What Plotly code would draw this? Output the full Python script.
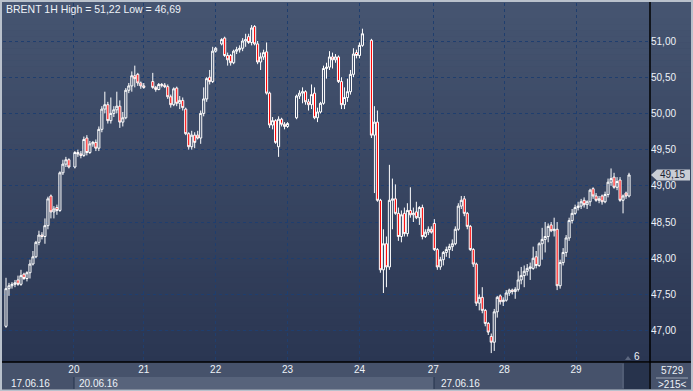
import plotly.graph_objects as go

# ---------------- data (hourly bars, BRENT 1H) ----------------
opens = [47.06,47.58,47.62,47.64,47.70,47.64,47.78,47.72,47.80,47.92,
         48.02,48.22,48.32,48.30,48.45,48.86,48.64,48.70,48.66,49.18,
         49.30,49.36,None,49.26,49.46,49.44,49.42,49.66,49.46,49.58,
         49.60,49.52,49.78,50.06,50.12,49.90,50.00,50.05,50.10,49.88,
         49.94,50.32,50.38,50.52,50.54,50.42,50.38,None,None,50.44,
         50.36,50.33,50.40,50.39,50.37,50.23,50.12,50.35,50.14,50.18,
         50.06,49.72,49.54,49.70,49.70,49.66,50.00,50.20,50.50,50.44,
         50.86,None,50.96,51.04,50.80,50.80,50.70,50.86,50.88,50.90,
         51.00,51.06,50.98,51.20,50.96,50.71,50.78,50.85,50.28,49.84,
         49.90,49.54,49.92,49.85,49.82,None,None,49.94,50.24,50.28,
         50.30,50.16,50.12,50.28,49.94,50.02,50.14,50.62,50.64,50.78,
         50.74,50.78,50.44,50.12,50.22,50.30,50.54,50.84,50.80,50.94,
         None,None,51.01,49.70,49.88,48.80,47.84,48.20,47.88,48.80,
         48.82,48.62,48.30,48.62,48.34,48.66,48.60,48.64,48.56,48.70,
         48.30,48.36,48.40,48.48,48.12,47.88,47.98,48.08,48.12,48.16,
         48.20,48.40,48.72,48.82,48.62,48.44,48.12,47.92,47.38,47.46,
         47.28,47.10,46.92,46.84,47.26,47.48,47.40,47.42,47.52,47.56,
         47.54,47.57,47.70,47.76,47.82,47.86,47.86,48.02,47.90,48.20,
         48.26,48.30,48.46,48.38,48.40,47.62,47.94,48.08,48.28,48.52,
         48.62,48.70,48.72,48.80,48.74,48.78,48.96,48.86,48.80,48.86,
         48.78,48.88,49.05,49.12,48.98,49.08,48.80,48.90,48.86]
highs = [47.73,47.66,47.67,47.70,47.76,47.84,47.80,47.82,47.98,48.10,
         48.24,48.38,48.36,48.55,48.85,48.88,48.72,48.74,49.20,49.36,
         49.40,49.38,None,49.48,49.50,49.48,49.68,49.70,49.62,49.62,
         49.64,49.82,50.10,50.30,50.16,50.22,50.10,50.30,50.18,50.02,
         50.35,50.42,50.58,50.66,50.56,50.44,50.42,None,None,50.56,
         50.38,50.42,50.42,50.42,50.40,50.26,50.36,50.37,50.24,50.22,
         50.08,49.74,49.76,49.74,49.76,50.04,50.36,50.50,50.60,50.92,
         50.92,None,51.04,51.06,50.84,50.82,50.88,50.92,50.94,51.04,
         51.10,51.10,51.22,51.22,51.00,50.84,50.88,50.98,50.30,49.95,
         49.92,49.96,49.94,49.88,49.88,None,None,50.26,50.32,50.36,
         50.32,50.20,50.40,50.36,50.08,50.16,50.66,50.70,50.86,50.84,
         50.82,50.80,50.50,50.36,50.48,50.60,50.90,50.88,50.98,51.17,
         None,None,51.03,50.10,50.04,48.82,48.40,48.30,49.29,49.10,
         49.02,48.70,48.66,48.70,48.76,48.98,48.70,48.78,48.72,48.74,
         48.40,48.44,48.44,48.54,48.14,48.02,48.10,48.16,48.20,48.26,
         48.44,48.76,48.86,48.86,48.64,48.46,48.14,47.94,47.50,47.60,
         47.30,47.12,46.96,47.30,47.48,47.50,47.46,47.56,47.58,47.58,
         47.60,47.82,47.88,47.90,47.92,47.94,48.16,48.10,48.22,48.42,
         48.50,48.48,48.50,48.56,48.50,47.98,48.14,48.32,48.56,48.68,
         48.74,48.78,48.82,48.84,48.80,48.96,48.98,48.90,48.86,48.88,
         48.92,49.10,49.24,49.18,49.12,49.12,48.88,48.92,49.18]
lows = [47.04,47.48,47.58,47.60,47.62,47.62,47.70,47.68,47.72,47.90,
        48.00,48.18,48.26,48.20,48.40,48.55,48.55,48.60,48.64,49.15,
        49.26,49.24,None,49.24,49.40,49.38,49.40,49.42,49.44,49.54,
        49.48,49.48,49.74,50.00,49.86,49.86,49.95,50.00,49.80,49.82,
        49.92,50.28,50.30,50.36,50.38,50.34,50.34,None,None,50.34,
        50.30,50.32,50.36,50.35,50.20,50.08,50.10,50.10,50.06,50.04,
        49.70,49.50,49.50,49.52,49.64,49.58,49.96,50.16,50.40,50.42,
        50.84,None,50.94,50.78,50.66,50.66,50.68,50.82,50.84,50.86,
        50.92,50.96,50.94,50.94,50.68,50.60,50.74,50.26,49.80,49.78,
        49.58,49.40,49.82,49.78,49.80,None,None,49.92,50.20,50.14,
        50.12,50.04,50.06,49.92,49.88,50.00,50.12,50.48,50.60,50.62,
        50.70,50.42,50.06,50.06,50.16,50.26,50.50,50.76,50.76,50.92,
        None,None,49.66,48.90,48.78,47.80,47.52,47.60,47.84,48.40,
        48.60,48.24,48.22,48.30,48.30,48.56,48.50,48.54,48.46,48.26,
        48.28,48.32,48.34,48.10,47.84,47.84,47.90,48.02,48.00,48.10,
        48.18,48.38,48.68,48.58,48.40,48.10,47.88,47.34,47.28,47.24,
        47.06,46.94,46.69,46.72,47.18,47.36,47.34,47.40,47.48,47.50,
        47.44,47.54,47.64,47.60,47.76,47.70,47.84,47.86,47.88,47.98,
        48.08,48.22,48.36,48.30,47.56,47.58,47.90,48.02,48.24,48.48,
        48.60,48.66,48.68,48.70,48.68,48.72,48.82,48.78,48.76,48.74,
        48.76,48.84,49.00,48.96,48.94,48.78,48.62,48.82,48.84]
closes = [47.58,47.62,47.64,47.66,47.64,47.76,47.72,47.80,47.92,48.02,
          48.22,48.32,48.30,48.45,48.82,48.64,48.68,48.66,49.18,49.30,
          49.36,49.26,None,49.46,49.44,49.42,49.64,49.46,49.58,49.60,
          49.52,49.78,50.06,50.12,49.90,50.00,50.05,50.10,49.88,49.94,
          50.32,50.38,50.52,50.48,50.42,50.38,50.36,None,None,50.36,
          50.33,50.40,50.39,50.37,50.23,50.12,50.34,50.14,50.18,50.08,
          49.72,49.54,49.70,49.60,49.66,50.00,50.20,50.48,50.44,50.86,
          50.90,None,51.02,50.80,50.74,50.70,50.86,50.88,50.90,51.00,
          51.02,50.98,51.18,50.96,50.71,50.78,50.84,50.28,49.84,49.90,
          49.60,49.92,49.85,49.82,49.86,None,None,50.24,50.28,50.30,
          50.16,50.12,50.26,49.94,50.02,50.14,50.62,50.64,50.78,50.74,
          50.78,50.44,50.12,50.22,50.30,50.54,50.82,50.80,50.94,51.10,
          None,None,49.70,49.88,48.80,47.84,48.20,47.88,48.80,48.82,
          48.62,48.30,48.60,48.34,48.66,48.60,48.62,48.56,48.70,48.30,
          48.36,48.40,48.36,48.12,47.88,47.98,48.08,48.12,48.16,48.20,
          48.40,48.72,48.80,48.62,48.44,48.12,47.92,47.38,47.46,47.28,
          47.10,46.98,46.84,47.26,47.46,47.40,47.42,47.52,47.56,47.54,
          47.57,47.70,47.76,47.82,47.86,47.88,48.00,47.90,48.20,48.26,
          48.30,48.44,48.38,48.40,47.62,47.94,48.08,48.28,48.52,48.62,
          48.70,48.72,48.78,48.74,48.78,48.94,48.86,48.80,48.82,48.78,
          48.88,49.05,49.10,48.98,49.06,48.80,48.86,48.86,49.15]

day_ticks = [22.67, 46, 70, 94, 118, 142.67, 166.33, 190.33]
day_labels = ["20", "21", "22", "23", "24", "27", "28", "29"]
price_ticks = [47.0, 47.5, 48.0, 48.5, 49.0, 49.5, 50.0, 50.5, 51.0]
price_labels = ["47,00", "47,50", "48,00", "48,50", "49,00", "49,50", "50,00", "50,50", "51,00"]
date_labels = ["17.06.16", "20.06.16", "27.06.16"]
title_text = "BRENT 1H High = 51,22 Low = 46,69"
last_price = closes[-1]

# ---------------- geometry helpers (layout decoration only) ----------------
W, H = 693, 391
ML, MR, MT, MB = 3, 43, 3, 29
PW, PH = W - ML - MR, H - MT - MB


def px(x):
    return (x - ML) / PW


def py(y):
    return (H - MB - y) / PH


idx = [i for i in range(len(opens)) if opens[i] is not None]
FONT = "Tahoma, Liberation Sans, Arial, sans-serif"
TXT = "#eef2f8"

fig = go.Figure()
fig.add_trace(go.Candlestick(
    x=idx,
    open=[opens[i] for i in idx],
    high=[highs[i] for i in idx],
    low=[lows[i] for i in idx],
    close=[closes[i] for i in idx],
    increasing=dict(line=dict(color="#ffffff", width=1), fillcolor="rgba(0,0,0,0)"),
    decreasing=dict(line=dict(color="#ffffff", width=1), fillcolor="#ff0000"),
    whiskerwidth=0,
    hoverinfo="skip",
    showlegend=False,
))

shapes = []
# gradient background
N = 60
top = (70, 85, 113)
bot = (42, 54, 82)
for k in range(N):
    t = (k + 0.5) / N
    c = tuple(int(round(top[j] + (bot[j] - top[j]) * t)) for j in range(3))
    y0 = k * 362 / N
    y1 = (k + 1) * 362 / N + 0.5
    shapes.append(dict(type="rect", xref="paper", yref="paper", layer="below",
                       x0=px(0), x1=px(W), y0=py(y0), y1=py(y1),
                       fillcolor="rgb(%d,%d,%d)" % c, line=dict(width=0)))
# bottom band
shapes.append(dict(type="rect", xref="paper", yref="paper", layer="below",
                   x0=px(0), x1=px(W), y0=py(362), y1=py(H),
                   fillcolor="#46526b", line=dict(width=0)))
shapes.append(dict(type="rect", xref="paper", yref="paper", layer="below",
                   x0=px(74), x1=px(434), y0=py(377), y1=py(389),
                   fillcolor="#57637b", line=dict(width=0)))
for xl in (74, 434):
    shapes.append(dict(type="line", xref="paper", yref="paper", layer="below",
                       x0=px(xl), x1=px(xl), y0=py(377), y1=py(389),
                       line=dict(color="#25324c", width=1)))
# dark box with "6"
shapes.append(dict(type="rect", xref="paper", yref="paper", layer="below",
                   x0=px(624), x1=px(649), y0=py(363), y1=py(389),
                   fillcolor="#27334c", line=dict(width=0)))
shapes.append(dict(type="line", xref="paper", yref="paper", layer="below",
                   x0=px(623), x1=px(623), y0=py(364), y1=py(388),
                   line=dict(color="#5d6880", width=1)))
shapes.append(dict(type="path", xref="paper", yref="paper", layer="above",
                   path="M %f,%f L %f,%f L %f,%f Z" % (px(625), py(360), px(631), py(360), px(628), py(356)),
                   fillcolor="#5d6880", line=dict(width=0)))
# separator in right bottom panel
shapes.append(dict(type="line", xref="paper", yref="paper", layer="above",
                   x0=px(656), x1=px(688), y0=py(378), y1=py(378),
                   line=dict(color="#9aa3b3", width=1)))
# black frame lines
shapes.append(dict(type="line", xref="paper", yref="paper", layer="above",
                   x0=px(2), x1=px(691), y0=py(362), y1=py(362),
                   line=dict(color="#000000", width=1.5)))
shapes.append(dict(type="line", xref="paper", yref="paper", layer="above",
                   x0=px(650), x1=px(650), y0=py(2), y1=py(389),
                   line=dict(color="#000000", width=1.5)))
# light outer border
for (x0, x1, y0, y1) in [(0, 2, 0, H), (691, W, 0, H), (0, W, 0, 2), (0, W, 389.5, H)]:
    shapes.append(dict(type="rect", xref="paper", yref="paper", layer="above",
                       x0=px(x0), x1=px(x1), y0=py(y0), y1=py(y1),
                       fillcolor="#b9c1cc", line=dict(width=0)))
# last price tag
hh = 5.5 / 72.4
shapes.append(dict(type="path", xref="paper", yref="y", layer="above",
                   path="M %f,%f L %f,%f L %f,%f L %f,%f L %f,%f Z" % (
                       px(651), last_price,
                       px(657), last_price + hh,
                       px(690), last_price + hh,
                       px(690), last_price - hh,
                       px(657), last_price - hh),
                   fillcolor="#c9cdd5", line=dict(width=0)))

annotations = [
    dict(text=title_text, xref="paper", yref="paper", x=px(4), y=py(9),
         xanchor="left", yanchor="middle", showarrow=False,
         font=dict(family=FONT, size=10.5, color=TXT)),
    dict(text="6", xref="paper", yref="paper", x=px(637), y=py(356),
         xanchor="center", yanchor="middle", showarrow=False,
         font=dict(family=FONT, size=10, color=TXT)),
    dict(text="5729", xref="paper", yref="paper", x=px(672), y=py(370),
         xanchor="center", yanchor="middle", showarrow=False,
         font=dict(family=FONT, size=10, color=TXT)),
    dict(text="&gt;215&lt;", xref="paper", yref="paper", x=px(672), y=py(384.5),
         xanchor="center", yanchor="middle", showarrow=False,
         font=dict(family=FONT, size=10, color=TXT)),
    dict(text="49,15", xref="paper", yref="y", x=px(672), y=last_price,
         xanchor="center", yanchor="middle", showarrow=False,
         font=dict(family=FONT, size=10, color="#1b2233")),
]
for lab, xl in zip(date_labels, (9, 77, 439)):
    annotations.append(dict(text=lab, xref="paper", yref="paper", x=px(xl), y=py(383),
                            xanchor="left", yanchor="middle", showarrow=False,
                            font=dict(family=FONT, size=10, color=TXT)))

fig.update_layout(
    width=W, height=H,
    margin=dict(l=ML, r=MR, t=MT, b=MB, pad=0),
    paper_bgcolor="#3a4663",
    plot_bgcolor="rgba(0,0,0,0)",
    boxgap=0.0,
    shapes=shapes,
    annotations=annotations,
    xaxis=dict(
        range=[-1, 215], tickvals=day_ticks, ticktext=day_labels,
        showgrid=True, gridcolor="#1f3e6e", griddash="dot", gridwidth=1,
        zeroline=False, showline=False, ticks="",
        tickfont=dict(family=FONT, size=10, color=TXT),
        rangeslider=dict(visible=False), fixedrange=True,
    ),
    yaxis=dict(
        range=[46.567, 51.525], side="right", tickvals=price_ticks, ticktext=price_labels,
        showgrid=True, gridcolor="#1f3e6e", griddash="dot", gridwidth=1,
        zeroline=False, showline=False, ticks="",
        tickfont=dict(family=FONT, size=10, color=TXT),
        fixedrange=True,
    ),
    font=dict(family=FONT),
)

fig.write_html(
    "out.html",
    config={"displayModeBar": False},
    post_script="document.body.style.margin='0';document.body.style.padding='0';"
                "document.documentElement.style.overflow='hidden';",
)
